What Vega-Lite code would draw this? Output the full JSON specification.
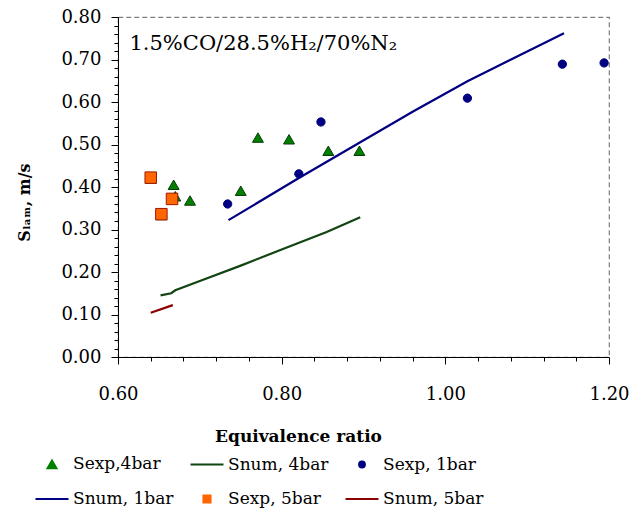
{
  "$schema": "https://vega.github.io/schema/vega-lite/v6.json",
  "width": 491,
  "height": 340,
  "autosize": {"type": "none"},
  "padding": {"left": 118, "top": 17, "right": 24, "bottom": 157},
  "background": "white",
  "config": {
    "view": {"stroke": "#808080", "strokeDash": [5, 3], "strokeWidth": 1.2},
    "font": "DejaVu Serif",
    "legend": {"rowPadding": 8},
    "axis": {
      "grid": false,
      "domainColor": "black",
      "domainWidth": 1,
      "tickColor": "black",
      "labelColor": "black",
      "titleColor": "black",
      "labelFont": "DejaVu Serif",
      "titleFont": "DejaVu Serif"
    }
  },
  "datasets": {
    "speeds": [
      {"series": "Sexp,4bar", "kind": "exp", "phi": 0.640, "s": 0.420},
      {"series": "Sexp,4bar", "kind": "exp", "phi": 0.653, "s": 0.334},
      {"series": "Sexp,4bar", "kind": "exp", "phi": 0.668, "s": 0.405},
      {"series": "Sexp,4bar", "kind": "exp", "phi": 0.670, "s": 0.378},
      {"series": "Sexp,4bar", "kind": "exp", "phi": 0.688, "s": 0.368},
      {"series": "Sexp,4bar", "kind": "exp", "phi": 0.750, "s": 0.391},
      {"series": "Sexp,4bar", "kind": "exp", "phi": 0.771, "s": 0.516},
      {"series": "Sexp,4bar", "kind": "exp", "phi": 0.809, "s": 0.512},
      {"series": "Sexp,4bar", "kind": "exp", "phi": 0.857, "s": 0.485},
      {"series": "Sexp,4bar", "kind": "exp", "phi": 0.895, "s": 0.485},
      {"series": "Sexp, 1bar", "kind": "exp", "phi": 0.734, "s": 0.360},
      {"series": "Sexp, 1bar", "kind": "exp", "phi": 0.821, "s": 0.431},
      {"series": "Sexp, 1bar", "kind": "exp", "phi": 0.848, "s": 0.553},
      {"series": "Sexp, 1bar", "kind": "exp", "phi": 1.027, "s": 0.609},
      {"series": "Sexp, 1bar", "kind": "exp", "phi": 1.143, "s": 0.689},
      {"series": "Sexp, 1bar", "kind": "exp", "phi": 1.194, "s": 0.692},
      {"series": "Sexp, 5bar", "kind": "exp", "phi": 0.640, "s": 0.422},
      {"series": "Sexp, 5bar", "kind": "exp", "phi": 0.653, "s": 0.336},
      {"series": "Sexp, 5bar", "kind": "exp", "phi": 0.666, "s": 0.372},
      {"series": "Snum, 4bar", "kind": "num", "phi": 0.652, "s": 0.145},
      {"series": "Snum, 4bar", "kind": "num", "phi": 0.665, "s": 0.150},
      {"series": "Snum, 4bar", "kind": "num", "phi": 0.670, "s": 0.157},
      {"series": "Snum, 4bar", "kind": "num", "phi": 0.700, "s": 0.179},
      {"series": "Snum, 4bar", "kind": "num", "phi": 0.750, "s": 0.215},
      {"series": "Snum, 4bar", "kind": "num", "phi": 0.800, "s": 0.253},
      {"series": "Snum, 4bar", "kind": "num", "phi": 0.855, "s": 0.294},
      {"series": "Snum, 4bar", "kind": "num", "phi": 0.896, "s": 0.329},
      {"series": "Snum, 1bar", "kind": "num", "phi": 0.735, "s": 0.322},
      {"series": "Snum, 1bar", "kind": "num", "phi": 0.820, "s": 0.420},
      {"series": "Snum, 1bar", "kind": "num", "phi": 0.895, "s": 0.504},
      {"series": "Snum, 1bar", "kind": "num", "phi": 0.960, "s": 0.577},
      {"series": "Snum, 1bar", "kind": "num", "phi": 1.027, "s": 0.649},
      {"series": "Snum, 1bar", "kind": "num", "phi": 1.145, "s": 0.762},
      {"series": "Snum, 5bar", "kind": "num", "phi": 0.640, "s": 0.104},
      {"series": "Snum, 5bar", "kind": "num", "phi": 0.667, "s": 0.122}
    ],
    "mixture": [
      {"label": "1.5%CO/28.5%H₂/70%N₂", "phi": 0.614, "s": 0.737}
    ]
  },
  "encoding": {
    "x": {
      "field": "phi",
      "type": "quantitative",
      "scale": {"domain": [0.6, 1.2], "nice": false, "zero": false},
      "axis": {
        "values": [0.6, 0.64, 0.68, 0.72, 0.76, 0.8, 0.84, 0.88, 0.92, 0.96, 1.0, 1.04, 1.08, 1.12, 1.16, 1.2],
        "labelExpr": "abs(datum.value*5-round(datum.value*5))<0.001 ? format(datum.value,'.2f') : ''",
        "tickSize": {"condition": {"test": "abs(datum.value*5-round(datum.value*5))<0.001", "value": 7}, "value": 4},
        "labelFontSize": 18,
        "labelPadding": 21,
        "labelFlush": false,
        "labelOverlap": false,
        "title": "Equivalence ratio",
        "titleFontSize": 17,
        "titleFontWeight": "bold",
        "titleX": 180,
        "titleY": 79,
        "titleBaseline": "middle",
        "titleAlign": "center"
      }
    },
    "y": {
      "field": "s",
      "type": "quantitative",
      "scale": {"domain": [0, 0.8], "nice": false},
      "axis": {
        "values": [0, 0.02, 0.04, 0.06, 0.08, 0.1, 0.12, 0.14, 0.16, 0.18, 0.2, 0.22, 0.24, 0.26, 0.28, 0.3, 0.32, 0.34, 0.36, 0.38, 0.4, 0.42, 0.44, 0.46, 0.48, 0.5, 0.52, 0.54, 0.56, 0.58, 0.6, 0.62, 0.64, 0.66, 0.68, 0.7, 0.72, 0.74, 0.76, 0.78, 0.8],
        "labelExpr": "abs(datum.value*10-round(datum.value*10))<0.001 ? format(datum.value,'.2f') : ''",
        "tickSize": {"condition": {"test": "abs(datum.value*10-round(datum.value*10))<0.001", "value": 7}, "value": 4},
        "labelFontSize": 18,
        "labelPadding": 10,
        "labelFlush": false,
        "labelOverlap": false,
        "title": "Sₗₐₘ, m/s",
        "titleFontSize": 16,
        "titleFontWeight": "bold",
        "titleX": -94,
        "titleY": 185,
        "titleBaseline": "middle",
        "titleAlign": "center"
      }
    }
  },
  "layer": [
    {
      "data": {"name": "speeds"},
      "transform": [{"filter": "datum.kind === 'exp'"}],
      "mark": {"type": "point", "filled": true, "opacity": 1, "strokeWidth": 1},
      "encoding": {
        "color": {
          "field": "series",
          "type": "nominal",
          "scale": {
            "domain": ["Sexp,4bar", "Snum, 4bar", "Sexp, 1bar", "Snum, 1bar", "Sexp, 5bar", "Snum, 5bar"],
            "range": ["#008000", "#114411", "#000080", "#000080", "#ff6600", "#8b0000"]
          },
          "legend": {
            "orient": "none",
            "legendX": -84,
            "legendY": 429,
            "columns": 3,
            "direction": "horizontal",
            "title": null,
            "symbolSize": 1089,
            "symbolStrokeWidth": 2.2,
            "labelFont": "DejaVu Serif",
            "labelFontSize": 17,
            "labelColor": "black",
            "labelOffset": 3,
            "columnPadding": 12,
            "rowPadding": 8,
            "encoding": {
              "symbols": {
                "shape": {"value": {"expr": "scale('shape', datum.value)"}},
                "fill": {"value": {"expr": "scale('color', datum.value)"}},
                "stroke": {"value": {"expr": "scale('color', datum.value)"}},
                "opacity": {"value": 1}
              }
            }
          }
        },
        "shape": {
          "field": "series",
          "type": "nominal",
          "scale": {
            "domain": ["Sexp,4bar", "Snum, 4bar", "Sexp, 1bar", "Snum, 1bar", "Sexp, 5bar", "Snum, 5bar"],
            "range": [
              "M0,-0.23L0.26,0.22L-0.26,0.22Z",
              "M-1,0H1",
              "M0.17,0A0.17,0.17,0,1,1,-0.17,0A0.17,0.17,0,1,1,0.17,0Z",
              "M-1,0H1",
              "M-0.21,-0.21H0.21V0.21H-0.21Z",
              "M-1,0H1"
            ]
          }
        },
        "stroke": {
          "field": "series",
          "type": "nominal",
          "scale": {
            "domain": ["Sexp,4bar", "Snum, 4bar", "Sexp, 1bar", "Snum, 1bar", "Sexp, 5bar", "Snum, 5bar"],
            "range": ["#0a3a0a", "#114411", "#000080", "#000080", "#9a1a00", "#8b0000"]
          },
          "legend": null
        },
        "size": {
          "field": "series",
          "type": "ordinal",
          "scale": {"domain": ["Sexp,4bar", "Sexp, 1bar", "Sexp, 5bar"], "range": [1764, 3000, 1750]},
          "legend": null
        }
      }
    },
    {
      "data": {"name": "speeds"},
      "transform": [{"filter": "datum.kind === 'num'"}],
      "mark": {"type": "line", "strokeWidth": 2.2},
      "encoding": {
        "color": {"field": "series", "type": "nominal"},
        "order": {"field": "phi", "type": "quantitative"}
      }
    },
    {
      "data": {"name": "mixture"},
      "mark": {"type": "text", "align": "left", "baseline": "middle", "fontSize": 21, "font": "DejaVu Serif", "color": "black"},
      "encoding": {
        "text": {"field": "label", "type": "nominal"}
      }
    }
  ]
}
